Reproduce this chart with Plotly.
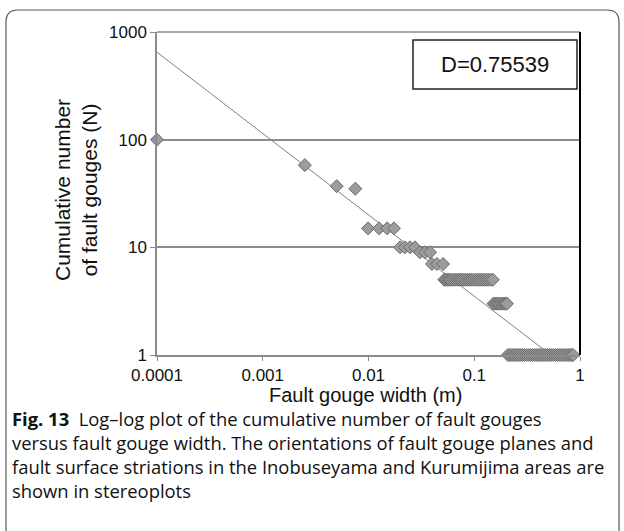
import plotly.graph_objects as go

# ---- data ----
width_m = [0.0001, 0.0025, 0.005, 0.0075,
           0.0099, 0.0126, 0.015, 0.0174,
           0.0199, 0.0221, 0.0247, 0.0275,
           0.0307, 0.0342, 0.0382,
           0.0398, 0.0444, 0.0507,
           0.052, 0.054, 0.056, 0.058, 0.060, 0.063, 0.066, 0.069, 0.072, 0.075,
           0.078, 0.082, 0.086, 0.090, 0.094, 0.098, 0.103, 0.108, 0.113, 0.118,
           0.124, 0.130, 0.136, 0.143, 0.150,
           0.152, 0.158, 0.164, 0.170, 0.177, 0.184, 0.191, 0.198, 0.204,
           0.208, 0.218, 0.228, 0.238, 0.249, 0.260, 0.272, 0.285, 0.298, 0.312,
           0.326, 0.341, 0.357, 0.373, 0.390, 0.408, 0.427, 0.447, 0.468, 0.490,
           0.513, 0.537, 0.562, 0.588, 0.615, 0.644, 0.674, 0.705, 0.738, 0.772,
           0.808, 0.840, 0.860]
cum_n = [100, 58, 37, 35,
         15, 15, 15, 15,
         10, 10, 10, 10,
         9, 9, 9,
         7, 7, 7] + [5] * 25 + [3] * 9 + [1] * 33

fit_D = 0.75539        # fractal dimension (slope)
fit_C = 0.618          # power-law coefficient
fit_x = [0.0001, 0.86]
fit_y = [fit_C * x ** (-fit_D) for x in fit_x]

x_ticks = [0.0001, 0.001, 0.01, 0.1, 1]
x_tick_text = ["0.0001", "0.001", "0.01", "0.1", "1"]
y_ticks = [1, 10, 100, 1000]
y_tick_text = ["1", "10", "100", "1000"]

caption_lines = [
    "<b>Fig. 13</b>  Log\u2013log plot of the cumulative number of fault gouges",
    "versus fault gouge width. The orientations of fault gouge planes and",
    "fault surface striations in the Inobuseyama and Kurumijima areas are",
    "shown in stereoplots",
]

fig = go.Figure()

fig.add_trace(go.Scatter(
    x=fit_x, y=fit_y, mode="lines",
    line=dict(color="#7f7f7f", width=1), hoverinfo="skip", showlegend=False))

fig.add_trace(go.Scatter(
    x=width_m, y=cum_n, mode="markers",
    marker=dict(symbol="diamond", size=10, color="#9c9c9c",
                line=dict(color="#6a6a6a", width=1)),
    showlegend=False, cliponaxis=False))

axis_font = dict(family="Liberation Sans", size=17, color="#111")

L_M, R_M, T_M, B_M = 157, 44, 32, 176
fig.update_layout(
    width=624, height=531,
    margin=dict(l=L_M, r=R_M, t=T_M, b=B_M),
    paper_bgcolor="white", plot_bgcolor="white",
    xaxis=dict(type="log", range=[-4, 0], tickvals=x_ticks, ticktext=x_tick_text,
               showgrid=False, showline=True, linecolor="#8c8c8c", linewidth=1.5,
               ticks="outside", ticklen=4, tickcolor="#8c8c8c",
               tickfont=axis_font, zeroline=False),
    yaxis=dict(type="log", range=[0, 3], tickvals=y_ticks, ticktext=y_tick_text,
               showgrid=True, gridcolor="#8c8c8c", gridwidth=1.5,
               showline=True, linecolor="#8c8c8c", linewidth=1.5,
               ticks="outside", ticklen=5, tickcolor="#8c8c8c",
               tickfont=axis_font, zeroline=False),
    font=dict(family="Liberation Sans"),
)

pw, ph = 624 - L_M - R_M, 531 - T_M - B_M
def px(xp):
    return (xp - L_M) / pw
def py(yp):
    return (531 - B_M - yp) / ph

shapes = [
    dict(type="line", xref="paper", yref="paper", x0=0, x1=1, y0=1, y1=1,
         line=dict(color="#8c8c8c", width=1.5)),
    dict(type="line", xref="paper", yref="paper", x0=1, x1=1, y0=0, y1=1,
         line=dict(color="#000000", width=2)),
    dict(type="rect", xref="paper", yref="paper",
         x0=px(413), x1=px(577), y0=py(89), y1=py(40),
         line=dict(color="#222", width=1.5), fillcolor="white"),
]
fig.update_layout(shapes=shapes)

L, R, T, B, rad = 6, 619, 10, 545, 12
path = (f"M {px(L)} {py(B)} L {px(L)} {py(T + rad)} "
        f"Q {px(L)} {py(T)} {px(L + rad)} {py(T)} "
        f"L {px(R - rad)} {py(T)} Q {px(R)} {py(T)} {px(R)} {py(T + rad)} "
        f"L {px(R)} {py(B)}")
fig.add_shape(type="path", xref="paper", yref="paper", path=path,
              line=dict(color="#555", width=1.2), layer="below")

fig.add_annotation(x=px(495), y=py(64), xref="paper", yref="paper",
                   xanchor="center", yanchor="middle",
                   text="D=0.75539", showarrow=False,
                   font=dict(family="Liberation Sans", size=22, color="#111"))

fig.add_annotation(x=px(365), y=py(395), xref="paper", yref="paper",
                   xanchor="center", yanchor="middle",
                   text="Fault gouge width (m)", showarrow=False,
                   font=dict(family="Liberation Sans", size=20, color="#111"))

fig.add_annotation(x=px(76), y=py(190), xref="paper", yref="paper",
                   xanchor="center", yanchor="middle",
                   text="Cumulative number<br>of fault gouges (N)", showarrow=False,
                   textangle=-90,
                   font=dict(family="Liberation Sans", size=21, color="#111"))

fig.add_annotation(x=px(10), y=py(454), xref="paper", yref="paper",
                   xanchor="left", yanchor="middle", align="left",
                   text="<br>".join(caption_lines), showarrow=False,
                   font=dict(family="Open Sans", size=18.4, color="#111"))

fig.write_html("out.html")
